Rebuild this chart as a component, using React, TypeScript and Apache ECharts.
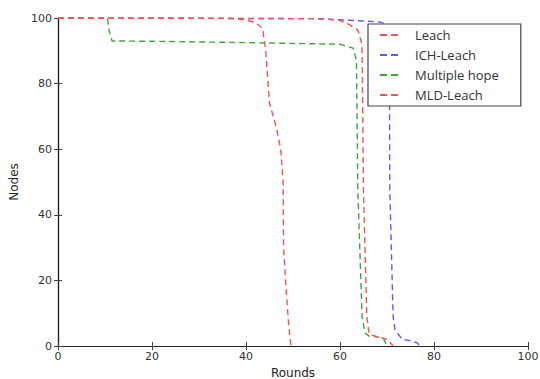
import React, { useEffect, useRef } from "react";
import * as echarts from "echarts";

const seriesNames = ["Leach", "ICH-Leach", "Multiple hope", "MLD-Leach"];
const seriesColors = ["#ff5050", "#5a5aff", "#3fa33f", "#ff5050"];

const xTicks = [0, 20, 40, 60, 80, 100];
const yTicks = [0, 20, 40, 60, 80, 100];

const leachRounds = [0, 36, 40, 42, 43.5, 44.2, 44.6, 45, 46.4, 47.4, 47.9, 48, 48.5, 49, 49.4, 49.6];
const leachNodes = [100, 100, 99.5, 98.5, 97, 90, 82, 74, 67, 60, 50, 30, 18, 8, 2, 0];

const ichRounds = [0, 55, 59.6, 68.5, 70.2, 70.5, 70.6, 71.3, 71.7, 73.2, 74.9, 76.4, 77];
const ichNodes = [100, 99.8, 99.5, 98.8, 97.9, 90, 47.5, 9, 4.9, 2.1, 1.6, 1, 0];

const hopeRounds = [0, 10.5, 10.9, 11.5, 20, 40, 60, 62.8, 63.5, 63.8, 64.7, 65.3, 66.2, 67.9, 69.2, 70];
const hopeNodes = [100, 100, 96, 93, 92.9, 92.5, 92, 90.8, 87, 47, 9, 4, 3, 2.8, 2.4, 0];

const mldRounds = [0, 55, 59.6, 62, 63.8, 64.5, 64.7, 65, 65.7, 66.2, 68, 70, 71.3];
const mldNodes = [100, 99.8, 99.4, 98, 96.3, 93, 90, 47, 9, 3.5, 2.8, 2, 0];

const allRounds = [leachRounds, ichRounds, hopeRounds, mldRounds];
const allNodes = [leachNodes, ichNodes, hopeNodes, mldNodes];

export default function App() {
  const ref = useRef<HTMLDivElement>(null);
  useEffect(() => {
    if (!ref.current) return;
    const chart = echarts.init(ref.current, undefined, { renderer: "svg" });
    const tickFont = { fontFamily: "DejaVu Sans", fontSize: 11, color: "#333" };
    const frameLine = { show: true, lineStyle: { color: "#222", width: 1.2 } };
    const tickStyle = { show: true, inside: true, length: 4, lineStyle: { color: "#444" } };
    const series = seriesNames.map((name, i) => ({
      name,
      type: "line",
      showSymbol: false,
      symbol: "none",
      data: allRounds[i].map((r, j) => [r, allNodes[i][j]]),
      lineStyle: { color: seriesColors[i], width: 1.4, type: [6, 4] },
      itemStyle: { color: seriesColors[i] },
      z: i === 0 || i === 3 ? 5 : 3,
    }));
    chart.setOption({
      animation: false,
      grid: { left: 58, top: 18, right: 12, bottom: 33, outerBoundsMode: "none", containLabel: false },
      legend: {
        orient: "vertical",
        left: 368,
        top: 24,
        padding: [4, 22, 4, 12],
        itemGap: 6,
        itemWidth: 18,
        itemHeight: 2,
        icon: "path://M0,0h7v2h-7zM11,0h7v2h-7z",
        borderColor: "#444",
        borderWidth: 1.2,
        backgroundColor: "#fff",
        textStyle: { fontFamily: "Open Sans", fontSize: 13, color: "#333", padding: [0, 0, 0, 12], lineHeight: 14 },
        data: seriesNames.map((n) => ({ name: n })),
      },
      xAxis: [
        {
          type: "value",
          min: 0,
          max: 100,
          interval: 20,
          name: "Rounds",
          nameLocation: "middle",
          nameGap: 19,
          nameTextStyle: { fontFamily: "DejaVu Sans", fontSize: 12, color: "#222" },
          axisLine: frameLine,
          axisTick: tickStyle,
          axisLabel: { ...tickFont, margin: 5, formatter: (v: number) => (xTicks.includes(v) ? String(v) : "") },
          splitLine: { show: false },
        },
        {
          type: "value",
          position: "top",
          min: 0,
          max: 100,
          interval: 20,
          axisLine: frameLine,
          axisTick: tickStyle,
          axisLabel: { show: false },
          splitLine: { show: false },
        },
      ],
      yAxis: [
        {
          type: "value",
          min: 0,
          max: 100,
          interval: 20,
          name: "Nodes",
          nameLocation: "middle",
          nameGap: 34,
          nameTextStyle: { fontFamily: "DejaVu Sans", fontSize: 12, color: "#222" },
          axisLine: frameLine,
          axisTick: tickStyle,
          axisLabel: { ...tickFont, margin: 6, formatter: (v: number) => (yTicks.includes(v) ? String(v) : "") },
          splitLine: { show: false },
        },
        {
          type: "value",
          position: "right",
          min: 0,
          max: 100,
          interval: 20,
          axisLine: frameLine,
          axisTick: tickStyle,
          axisLabel: { show: false },
          splitLine: { show: false },
        },
      ],
      series,
    });
    return () => chart.dispose();
  }, []);
  return <div ref={ref} style={{ width: 540, height: 379, position: "absolute", left: 0, top: 0, background: "#fff" }} />;
}
